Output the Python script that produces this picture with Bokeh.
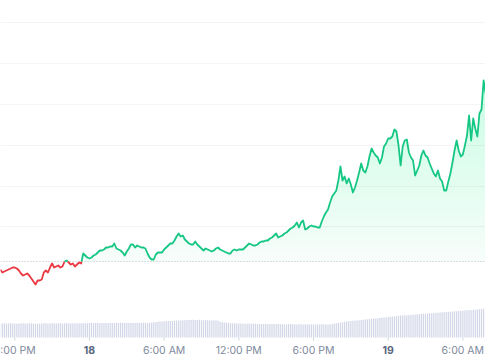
import numpy as np
from bokeh.plotting import figure
from bokeh.models import Range1d, FixedTicker, Span, Grid
from bokeh.core.properties import value
from bokeh.embed import file_html
from bokeh.resources import INLINE

# ---- data (10-minute samples, starting Dec 17 16:50) ----
START_HOUR = 16 + 50 / 60          # hours since Dec 17 00:00
STEP_HOURS = 10 / 60
OPEN_PRICE = 2.000

price = [
    1.992, 1.989, 1.990, 1.991, 1.992, 1.993, 1.994, 1.994, 1.993, 1.991,
    1.988, 1.986, 1.987, 1.988, 1.986, 1.983, 1.980, 1.977, 1.981, 1.981,
    1.982, 1.989, 1.991, 1.989, 1.994, 1.998, 1.994, 1.995, 1.996, 1.994,
    1.995, 2.000, 2.001, 1.999, 1.997, 1.998, 1.995, 1.997, 1.999, 1.998,
    2.008, 2.006, 2.004, 2.003, 2.004, 2.006, 2.007, 2.009, 2.011, 2.011,
    2.012, 2.014, 2.014, 2.015, 2.015, 2.018, 2.013, 2.012, 2.011, 2.009,
    2.006, 2.010, 2.013, 2.017, 2.017, 2.014, 2.016, 2.015, 2.014, 2.014,
    2.013, 2.008, 2.004, 2.002, 2.002, 2.007, 2.009, 2.009, 2.009, 2.012,
    2.014, 2.016, 2.018, 2.018, 2.021, 2.025, 2.028, 2.025, 2.026, 2.022,
    2.020, 2.018, 2.017, 2.017, 2.020, 2.017, 2.015, 2.013, 2.011, 2.013,
    2.012, 2.011, 2.010, 2.011, 2.013, 2.014, 2.012, 2.011, 2.010, 2.009,
    2.008, 2.008, 2.011, 2.012, 2.011, 2.012, 2.012, 2.012, 2.014, 2.016,
    2.018, 2.017, 2.016, 2.016, 2.017, 2.019, 2.020, 2.020, 2.021, 2.021,
    2.023, 2.024, 2.026, 2.028, 2.024, 2.025, 2.026, 2.028, 2.029, 2.031,
    2.033, 2.034, 2.036, 2.039, 2.034, 2.039, 2.041, 2.032, 2.033, 2.035,
    2.036, 2.035, 2.035, 2.034, 2.034, 2.040, 2.045, 2.049, 2.052, 2.059,
    2.065, 2.068, 2.071, 2.081, 2.095, 2.081, 2.085, 2.078, 2.083, 2.077,
    2.069, 2.074, 2.081, 2.089, 2.098, 2.091, 2.089, 2.095, 2.105, 2.113,
    2.109, 2.106, 2.104, 2.098, 2.104, 2.115, 2.118, 2.123, 2.123, 2.125,
    2.132, 2.130, 2.116, 2.096, 2.115, 2.121, 2.122, 2.109, 2.104, 2.101,
    2.086, 2.091, 2.096, 2.106, 2.111, 2.106, 2.104, 2.098, 2.093, 2.088,
    2.085, 2.091, 2.083, 2.080, 2.071, 2.071, 2.080, 2.088, 2.099, 2.111,
    2.121, 2.111, 2.105, 2.107, 2.116, 2.126, 2.146, 2.121, 2.143, 2.133,
    2.125, 2.148, 2.152, 2.181, 2.168,
]

volume_m = [
    56, 56, 57, 56, 56, 57, 56, 56, 55, 56, 56, 57, 56, 56, 56, 57, 56, 56, 55, 56,
    56, 57, 57, 56, 56, 57, 56, 56, 57, 57, 56, 57, 57, 56, 57, 57, 56, 57, 57,
    57, 58, 57, 57, 58, 58, 57, 58, 58, 57, 58, 58, 57, 58, 58, 58, 57, 58, 58, 59,
    58, 58, 59, 58, 58, 59, 58, 59, 59, 58, 59, 59, 58, 59,
    60, 61, 62, 63, 64,
    64, 65, 65, 66, 66, 67, 67, 68, 68, 68, 69, 69, 70, 70, 70,
    71, 70, 70, 71, 70, 69, 70, 69, 69, 68, 69, 68, 68,
    63, 61, 60, 59, 58, 58, 57, 57, 56, 56, 56,
    55, 55, 55, 56, 55, 55, 55, 54, 55, 54, 54, 55, 54, 54, 54, 53, 54, 54, 53, 54,
    53, 53, 54, 53, 53, 53, 52, 53, 53, 52, 53, 52, 52, 53, 52, 52, 52, 52, 53, 52,
    52, 52, 53,
    54, 55, 57, 58, 60, 61, 63, 64,
    65, 66, 67, 68, 68, 69, 70, 71, 72, 73, 74, 75, 76, 76, 77, 78, 79, 80, 81, 82,
    83, 84, 85, 86, 87, 88,
    88, 89, 89, 90, 91, 91, 92, 93, 93, 94, 95, 95, 96, 97, 97, 98, 99, 99, 100, 101,
    101, 102, 103, 103, 104, 105, 105, 106, 107, 107, 108, 109, 109, 110, 111, 111,
    112, 113, 114, 115, 116,
]

tick_hours = [18, 24, 30, 36, 42, 48, 54]
tick_labels = ["6:00 PM", "18", "6:00 AM", "12:00 PM", "6:00 PM", "19", "6:00 AM"]
tick_is_day = [False, True, False, False, False, True, False]
grid_levels = [2.035, 2.0755, 2.1165, 2.157, 2.198, 2.239]

GREEN = "#16c784"
RED = "#ea3943"
FONT = "Inter"

# ---- derived ----
n = len(price)
t = START_HOUR + np.arange(n) * STEP_HOURS
pr = np.array(price, dtype=float)

xs = [t[0]]
ys = [pr[0]]
for i in range(1, n):
    a, b = pr[i - 1] - OPEN_PRICE, pr[i] - OPEN_PRICE
    if a * b < 0:
        f = a / (a - b)
        xs.append(t[i - 1] + f * (t[i] - t[i - 1]))
        ys.append(OPEN_PRICE)
    xs.append(t[i])
    ys.append(pr[i])
xs = np.array(xs)
ys = np.array(ys)
green_y = np.where(ys >= OPEN_PRICE, ys, np.nan)
red_y = np.where(ys <= OPEN_PRICE, ys, np.nan)

# layout: the plotting frame covers the whole canvas; the price axis band
# ends at PLOT_BOTTOM and the time labels live below it.
PLOT_BOTTOM = 1.924
p = figure(width=485, height=360, output_backend="svg", toolbar_location=None,
           x_range=Range1d(16.854, 55.82), y_range=Range1d(1.901, 2.261),
           x_axis_location=None, y_axis_location=None,
           min_border_left=0, min_border_right=0, min_border_top=0,
           min_border_bottom=0)
p.outline_line_color = None
p.background_fill_color = "white"
p.border_fill_color = "white"
p.xgrid.visible = False
p.ygrid.visible = False
p.add_layout(Grid(dimension=1, ticker=FixedTicker(ticks=grid_levels),
                  grid_line_color="#f4f4f6", grid_line_width=1))

# volume: 0 sits at the bottom of the price band
p.extra_y_ranges = {"vol": Range1d(-92, 1348)}
p.vbar(x=t[:len(volume_m)], top=volume_m, bottom=0, width=STEP_HOURS * 0.6,
       y_range_name="vol", fill_color="#d3d7e8", line_color=None)

# gradient-like fill between price line and open price
for k in range(25):
    lvl = OPEN_PRICE + k * 0.008
    alpha = 0.04 if k == 0 else 0.0075
    p.varea(x=xs, y1=np.full_like(ys, lvl), y2=np.maximum(ys, lvl),
            fill_color=GREEN, fill_alpha=alpha)

p.add_layout(Span(location=OPEN_PRICE, dimension="width", line_color="#bfbfbf",
                  line_dash="1 2", line_width=1, level="underlay"))

p.line(xs, red_y, line_color=RED, line_width=1.8, line_join="round")
p.line(xs, green_y, line_color=GREEN, line_width=1.8, line_join="round")

# time axis: tick marks and labels
p.segment(x0=tick_hours, x1=tick_hours,
          y0=[PLOT_BOTTOM] * len(tick_hours), y1=[PLOT_BOTTOM - 0.003] * len(tick_hours),
          line_color="#cfd3dc", line_width=1)
p.text(x=tick_hours, y=[PLOT_BOTTOM - 0.0125] * len(tick_hours), text=tick_labels,
       text_align="center", text_baseline="middle",
       text_font=value(FONT), text_font_size="10.5px",
       text_font_style=["bold" if d else "normal" for d in tick_is_day],
       text_color=["#58667e" if d else "#808a9d" for d in tick_is_day])

open("out.html", "w").write(file_html(p, INLINE))
